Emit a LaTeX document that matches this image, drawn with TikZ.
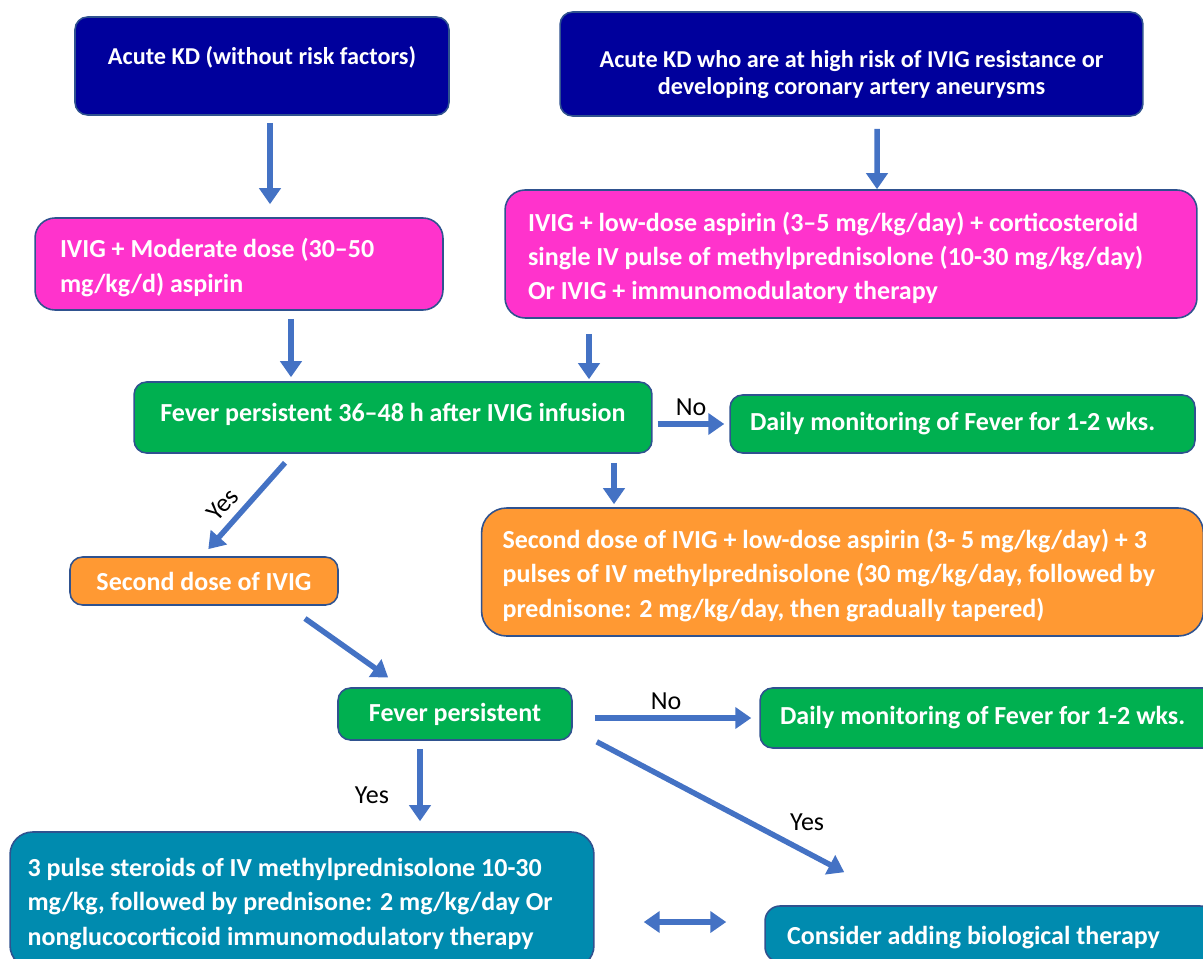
\documentclass[tikz,border=0pt]{standalone}
\usepackage{fontspec}
\setmainfont{Carlito}
\usepackage{tikz}
\usetikzlibrary{positioning,arrows.meta,calc}
\definecolor{kdnavy}{HTML}{00009C}
\definecolor{kdpink}{HTML}{FF33CC}
\definecolor{kdgreen}{HTML}{00B050}
\definecolor{kdorange}{HTML}{FF9933}
\definecolor{kdteal}{HTML}{008BAF}
\definecolor{kdedge}{HTML}{2F528F}
\definecolor{kdarrow}{HTML}{4472C4}

\begin{document}
\begin{tikzpicture}[x=0.02cm, y=-0.02cm,
  box/.style={draw=kdedge, line width=0.9pt, rounded corners=0.25cm,
    text=white, inner ysep=0pt, align=center,
    font=\bfseries\fontsize{14.8}{19.4}\selectfont},
  leftbox/.style={box, align=flush left, text height=15pt},
  navybox/.style={box, fill=kdnavy, font=\bfseries\fontsize{13.8}{15.4}\selectfont},
  pinkbox/.style={leftbox, fill=kdpink, rounded corners=0.4cm},
  greenbox/.style={box, fill=kdgreen},
  orangebox/.style={box, fill=kdorange},
  tealbox/.style={leftbox, fill=kdteal, rounded corners=0.45cm},
  >={Triangle[length=0.32cm,width=0.42cm]},
  flow/.style={->, line width=0.11cm, kdarrow},
  biflow/.style={<->, line width=0.11cm, kdarrow},
  answer/.style={font=\fontsize{14.8}{18}\selectfont, text=black}]
  \useasboundingbox (0,0) rectangle (1203,959);

  % Inicio
  \node[navybox, minimum width=7.48cm, minimum height=1.96cm, text depth=0.4cm] (acute) at (262,66)
    {Acute KD (without risk factors)};
  \node[navybox, minimum width=11.66cm, minimum height=2.08cm, text height=37.5pt] (risk) at (851.5,64)
    {Acute KD who are at high risk of IVIG resistance or\\developing coronary artery aneurysms};

  % Tratamiento inicial
  \node[pinkbox, text width=7.16cm, inner xsep=0.5cm, minimum height=1.84cm] (ivigmod) at (239,264)
    {IVIG + Moderate dose (30–50\\mg/kg/d) aspirin};
  \node[pinkbox, text width=12.92cm, inner xsep=0.46cm, minimum height=2.56cm] (ivigster) at (851,254)
    {IVIG + low-dose aspirin (3–5 mg/kg/day) + corticosteroid\\single IV pulse of methylprednisolone (10-30 mg/kg/day)\\Or IVIG + immunomodulatory therapy};

  % Primera evaluacion
  \node[greenbox, minimum width=10.36cm, minimum height=1.42cm, text depth=6pt] (fever1) at (393,417.5)
    {Fever persistent 36–48 h after IVIG infusion};
  \node[greenbox, align=flush left, text width=8.5cm, inner xsep=0.4cm, minimum height=1.16cm] (monit1) at (962.5,424)
    {Daily monitoring of Fever for 1-2 wks.};
  \node[orangebox, minimum width=5.36cm, minimum height=0.96cm] (second1) at (204,581)
    {Second dose of IVIG};
  \node[orangebox, align=flush left, text width=13.6cm, inner xsep=0.42cm, minimum height=2.56cm,
    text height=15pt, rounded corners=0.5cm] (second2) at (842.5,572)
    {Second dose of IVIG + low-dose aspirin (3- 5 mg/kg/day) + 3\\pulses of IV methylprednisolone (30 mg/kg/day, followed by\\prednisone: 2 mg/kg/day, then gradually tapered)};

  % Segunda evaluacion
  \node[greenbox, minimum width=4.68cm, minimum height=1.04cm] (fever2) at (455,714)
    {Fever persistent};
  \node[greenbox, align=flush left, text width=8.5cm, inner xsep=0.4cm, minimum height=1.2cm] (monit2) at (992.5,718)
    {Daily monitoring of Fever for 1-2 wks.};
  \node[tealbox, text width=10.98cm, inner xsep=0.35cm, minimum height=2.72cm] (pulse) at (302,900)
    {3 pulse steroids of IV methylprednisolone 10-30\\mg/kg, followed by prednisone: 2 mg/kg/day Or\\nonglucocorticoid immunomodulatory therapy};
  \node[tealbox, text width=8.12cm, inner xsep=0.44cm, minimum height=1.12cm, rounded corners=0.3cm] (bio) at (990,934)
    {Consider adding biological therapy};

  % Flechas
  \draw[flow, shorten <=0.14cm, shorten >=0.26cm]
    ($(acute.south)+(8,0)$) -- ($(ivigmod.north)+(31,0)$);
  \draw[flow, shorten <=0.24cm]
    ($(risk.south)+(25.5,0)$) -- ($(ivigster.north)+(26,0)$);
  \draw[flow, shorten <=0.16cm, shorten >=0.08cm]
    ($(ivigmod.south)+(52,0)$) -- ($(fever1.north)+(-102,0)$);
  \draw[flow, shorten <=0.3cm, shorten >=0.04cm]
    ($(ivigster.south)+(-262,0)$) -- ($(fever1.north)+(196,0)$);
  \draw[flow, shorten <=0.1cm, shorten >=0.1cm]
    (fever1.east |- monit1.west) -- (monit1.west) node[answer, midway, above] {No};
  \draw[flow, shorten <=0.18cm, shorten >=0.06cm]
    ($(fever1.south)+(221,0)$) -- ($(second2.north)+(-228.5,0)$);
  \draw[flow, shorten <=0.24cm, shorten >=0.19cm]
    ($(fever1.south)+(-100,0)$) -- ($(second1.north)+(-2,0)$)
    node[answer, pos=0.62, sloped, above=0.04cm] {Yes};
  \draw[flow, shorten <=0.44cm, shorten >=0.34cm]
    ($(second1.south)+(83,0)$) -- ($(fever2.north)+(-53,0)$);
  \draw[flow, shorten <=0.44cm, shorten >=0.16cm]
    (fever2.east |- monit2.west) -- (monit2.west) node[answer, midway, above] {No};
  \draw[flow, shorten <=0.16cm, shorten >=0.2cm]
    ($(fever2.south)+(-35,0)$) -- ($(pulse.north)+(118,0)$)
    node[answer, pos=0.6, left=0.45cm] {Yes};
  \draw[flow]
    ($(fever2.south east)+(24,1)$) -- ($(bio.north west)+(80,-33)$)
    node[answer, pos=0.85, above=0.27cm] {Yes};
  \draw[biflow, shorten <=0.98cm, shorten >=0.76cm]
    ($(pulse.east)+(0,22)$) -- ($(bio.west)+(0,-12)$);
\end{tikzpicture}
\end{document}
